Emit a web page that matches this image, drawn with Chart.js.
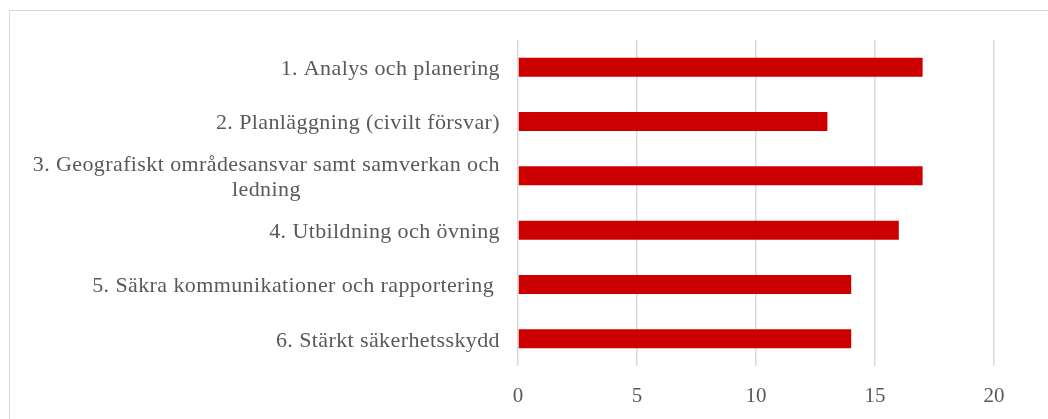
<!DOCTYPE html>
<html>
<head>
<meta charset="utf-8">
<script src="https://cdn.jsdelivr.net/npm/chart.js@4"></script>
<style>
  html, body { margin: 0; padding: 0; background: #fff; }
  #wrap { width: 1048px; height: 419px; }
</style>
</head>
<body>
<div id="wrap"><canvas id="myChart" width="1048" height="419"></canvas></div>
<script>
var labels = [
  ["1. Analys och planering"],
  ["2. Planläggning (civilt försvar)"],
  ["3. Geografiskt områdesansvar samt samverkan och", "ledning"],
  ["4. Utbildning och övning"],
  ["5. Säkra kommunikationer och rapportering "],
  ["6. Stärkt säkerhetsskydd"]
];
var values = [17, 13, 17, 16, 14, 14];
var xTicks = [0, 5, 10, 15, 20];

var fontFamily = "'Liberation Serif', 'DejaVu Serif', serif";
var textColor = "#595959";

// frame around the whole chart, like the office chart border
var framePlugin = {
  id: "frame",
  beforeDraw: chart => {
    var ctx = chart.ctx;
    ctx.save();
    ctx.fillStyle = "#fff";
    ctx.fillRect(0, 0, chart.width, chart.height);
    ctx.strokeStyle = "#d9d9d9";
    ctx.lineWidth = 1;
    ctx.strokeRect(9.5, 10.5, 1100, 500);
    ctx.restore();
  }
};

// y labels drawn by hand so the second line of a wrapped label is centred
var yLabelPlugin = {
  id: "yLabels",
  afterDraw: chart => {
    var ctx = chart.ctx;
    var scale = chart.scales.y;
    var right = chart.chartArea.left - 18;
    var lineHeight = 25;
    ctx.save();
    ctx.font = "22px " + fontFamily;
    ctx.letterSpacing = "0.4px";
    ctx.fillStyle = textColor;
    ctx.textBaseline = "middle";
    scale.ticks.forEach((t, i) => {
      var lines = labels[i];
      var y = scale.getPixelForTick(i) + 2 - (lines.length - 1) * lineHeight / 2;
      var w = ctx.measureText(lines[0]).width;
      ctx.textAlign = "right";
      ctx.fillText(lines[0], right, y);
      ctx.textAlign = "center";
      for (var k = 1; k < lines.length; k++) {
        ctx.fillText(lines[k], right - w / 2, y + k * lineHeight);
      }
    });
    ctx.restore();
  }
};

var ctx = document.getElementById("myChart");
new Chart(ctx, {
  type: "bar",
  data: {
    labels: labels,
    datasets: [
      {
        data: values,
        backgroundColor: "#cc0000",
        categoryPercentage: 0.35,
        barPercentage: 1
      }
    ]
  },
  options: {
    indexAxis: "y",
    responsive: false,
    animation: false,
    layout: { padding: { top: 40, right: 54, bottom: 0, left: 0 } },
    plugins: {
      legend: { display: false },
      tooltip: { enabled: false }
    },
    scales: {
      x: {
        min: 0,
        max: 20,
        afterBuildTicks: axis => {
          axis.ticks = xTicks.map(v => ({ value: v }));
        },
        grid: { color: "#d9d9d9", lineWidth: 1.5, drawTicks: false },
        border: { display: false },
        ticks: {
          padding: 18,
          color: textColor,
          font: { family: fontFamily, size: 21 }
        },
        afterFit: axis => {
          axis.height = 53;
        }
      },
      y: {
        grid: { display: false },
        border: { display: false },
        ticks: {
          color: "rgba(0,0,0,0)",
          font: { family: fontFamily, size: 17 }
        },
        afterFit: axis => {
          axis.width = 518;
        }
      }
    }
  },
  plugins: [framePlugin, yLabelPlugin]
});
</script>
</body>
</html>
